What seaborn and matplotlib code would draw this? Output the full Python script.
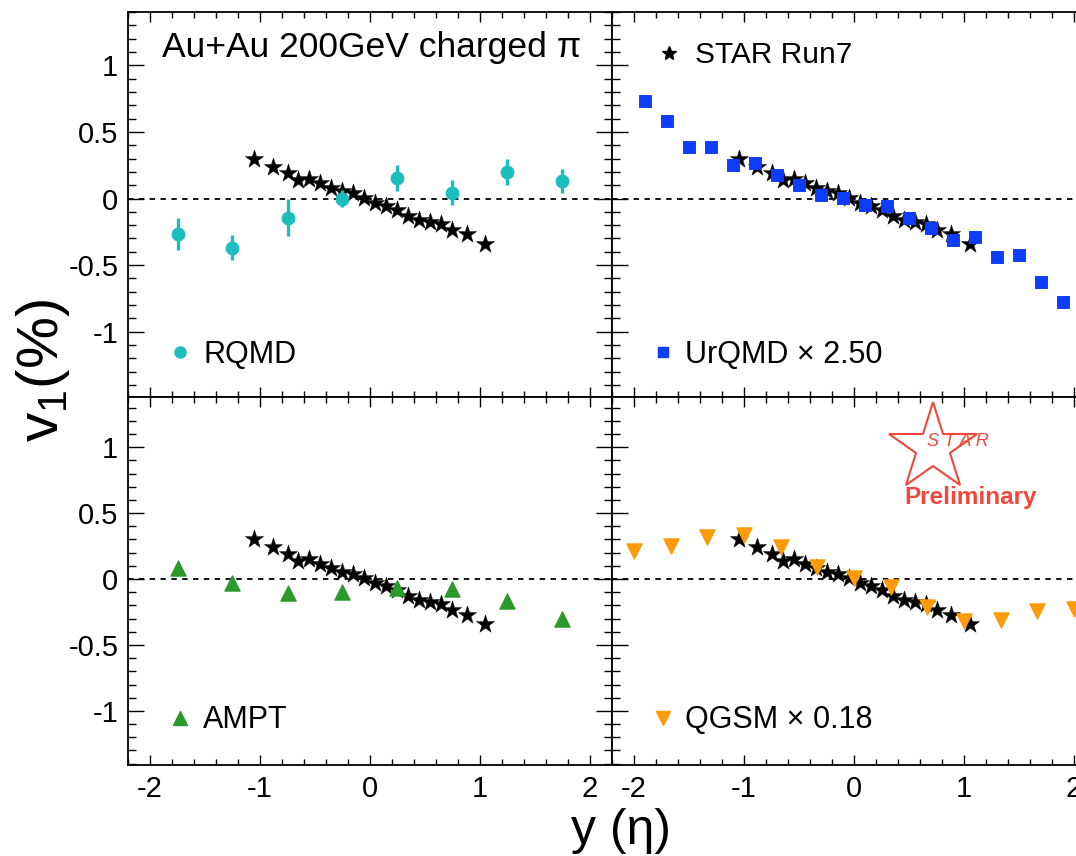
import numpy as np
import pandas as pd
import matplotlib
matplotlib.use("Agg")
import matplotlib.pyplot as plt
import seaborn as sns
from matplotlib.ticker import MultipleLocator, FormatStrFormatter

# ---- data -------------------------------------------------------------
# STAR Run7 measurement (charged pions, Au+Au 200 GeV)
star_y = [-1.05, -0.88, -0.75, -0.65, -0.55, -0.45, -0.35, -0.25, -0.15, -0.05,
          0.05, 0.15, 0.25, 0.35, 0.45, 0.55, 0.65, 0.75, 0.88, 1.05]
star_v1 = [0.30, 0.24, 0.19, 0.14, 0.15, 0.115, 0.08, 0.055, 0.04, 0.005,
           -0.03, -0.055, -0.085, -0.13, -0.16, -0.175, -0.19, -0.235, -0.27, -0.34]

# RQMD
rqmd_y = [-1.75, -1.25, -0.75, -0.25, 0.25, 0.75, 1.25, 1.75]
rqmd_v1 = [-0.27, -0.37, -0.145, 0.0, 0.155, 0.045, 0.20, 0.13]
rqmd_err = [0.12, 0.095, 0.14, 0.065, 0.10, 0.095, 0.10, 0.09]

# UrQMD (raw, drawn scaled)
urqmd_scale = 2.50
urqmd_y = [-1.9, -1.7, -1.5, -1.3, -1.1, -0.9, -0.7, -0.5, -0.3, -0.1,
           0.1, 0.3, 0.5, 0.7, 0.9, 1.1, 1.3, 1.5, 1.7, 1.9]
urqmd_v1 = [0.292, 0.232, 0.156, 0.156, 0.100, 0.108, 0.070, 0.040, 0.012, 0.002,
            -0.020, -0.024, -0.058, -0.090, -0.124, -0.116, -0.176, -0.170, -0.252, -0.312]

# AMPT
ampt_y = [-1.75, -1.25, -0.75, -0.25, 0.25, 0.75, 1.25, 1.75]
ampt_v1 = [0.085, -0.03, -0.105, -0.095, -0.065, -0.075, -0.165, -0.30]

# QGSM (raw, drawn scaled)
qgsm_scale = 0.18
qgsm_y = [-2.0, -1.667, -1.333, -1.0, -0.667, -0.333, 0.0,
          0.333, 0.667, 1.0, 1.333, 1.667, 2.0]
qgsm_v1 = [1.19, 1.39, 1.76, 1.85, 1.36, 0.52, 0.06,
           -0.35, -1.17, -1.76, -1.73, -1.34, -1.28]

xticks = [-2, -1, 0, 1, 2]
yticks = [-1, -0.5, 0, 0.5, 1]

# ---- style ------------------------------------------------------------
sns.set_theme(style="ticks")
plt.rcParams["font.family"] = ["Liberation Sans", "DejaVu Sans"]
plt.rcParams["mathtext.default"] = "regular"
plt.rcParams["axes.unicode_minus"] = False
for key in ("text.color", "axes.labelcolor", "xtick.color", "ytick.color",
            "xtick.labelcolor", "ytick.labelcolor"):
    plt.rcParams[key] = "black"

C_STAR = "black"
C_RQMD = "#1dbdbd"
C_URQMD = "#0d3cfb"
C_AMPT = "#2b9a2b"
C_QGSM = "#ff9a08"
C_LOGO = "#f2473c"

W, H = 1076, 856
fig = plt.figure(figsize=(W / 100, H / 100), dpi=100)
fig.patch.set_facecolor("white")


def frac_box(x0, y0, x1, y1):
    return [x0 / W, 1 - y1 / H, (x1 - x0) / W, (y1 - y0) / H]


ax_tl = fig.add_axes(frac_box(128, 12, 612, 397))
ax_tr = fig.add_axes(frac_box(612, 12, 1096, 397))
ax_bl = fig.add_axes(frac_box(128, 397, 612, 765))
ax_br = fig.add_axes(frac_box(612, 397, 1096, 765))

star_df = pd.DataFrame({"y": star_y, "v1": star_v1})


def style_axes(ax, ylim, xlabels, ylabels):
    ax.set_xlim(-2.2, 2.2)
    ax.set_ylim(*ylim)
    ax.set_facecolor("white")
    for s in ax.spines.values():
        s.set_visible(True)
        s.set_linewidth(1.3)
        s.set_color("black")
    ax.set_xticks(xticks)
    ax.set_yticks(yticks)
    ax.xaxis.set_minor_locator(MultipleLocator(0.2))
    ax.yaxis.set_minor_locator(MultipleLocator(0.1))
    ax.yaxis.set_major_formatter(FormatStrFormatter("%g"))
    ax.xaxis.set_major_formatter(FormatStrFormatter("%g"))
    ax.tick_params(axis="both", which="both", direction="in",
                   top=True, bottom=True, left=True, right=True,
                   color="black", width=1.0)
    ax.tick_params(axis="x", which="major", length=7.5)
    ax.tick_params(axis="x", which="minor", length=4)
    ax.tick_params(axis="y", which="major", length=11.5)
    ax.tick_params(axis="y", which="minor", length=5.5)
    ax.tick_params(axis="both", labelsize=21, pad=7, labelcolor="black")
    ax.tick_params(labelbottom=xlabels, labelleft=ylabels,
                   labeltop=False, labelright=False)
    ax.axhline(0, color="black", lw=1.3, ls=(0, (3, 3)), zorder=1)


def draw_star(ax):
    sns.scatterplot(data=star_df, x="y", y="v1", ax=ax, marker="*", s=190,
                    color=C_STAR, edgecolor=C_STAR, linewidth=0.3,
                    zorder=4, legend=False)


# top-left: RQMD
style_axes(ax_tl, (-1.49, 1.40), False, True)
draw_star(ax_tl)
ax_tl.errorbar(rqmd_y, rqmd_v1, yerr=rqmd_err, fmt="none", ecolor=C_RQMD,
               elinewidth=2.4, capsize=0, zorder=5)
sns.scatterplot(x=rqmd_y, y=rqmd_v1, ax=ax_tl, marker="o", s=85,
                color=C_RQMD, edgecolor=C_RQMD, zorder=5, legend=False)

# top-right: UrQMD
style_axes(ax_tr, (-1.49, 1.40), False, False)
draw_star(ax_tr)
sns.scatterplot(x=urqmd_y, y=np.array(urqmd_v1) * urqmd_scale, ax=ax_tr,
                marker="s", s=70, color=C_URQMD, edgecolor=C_URQMD,
                zorder=5, legend=False, clip_on=False)

# bottom-left: AMPT
style_axes(ax_bl, (-1.41, 1.38), True, True)
sns.scatterplot(x=ampt_y, y=ampt_v1, ax=ax_bl, marker="^", s=120,
                color=C_AMPT, edgecolor=C_AMPT, zorder=5, legend=False)
draw_star(ax_bl)

# bottom-right: QGSM
style_axes(ax_br, (-1.41, 1.38), True, False)
draw_star(ax_br)
sns.scatterplot(x=qgsm_y, y=np.array(qgsm_v1) * qgsm_scale, ax=ax_br,
                marker="v", s=120, color=C_QGSM, edgecolor=C_QGSM,
                zorder=5, legend=False, clip_on=False)

for ax in (ax_tl, ax_tr, ax_bl, ax_br):
    ax.set_xlabel("")
    ax.set_ylabel("")

# ---- annotations ------------------------------------------------------
ax_tl.text(0.070, 0.883, "Au+Au 200GeV charged π", transform=ax_tl.transAxes,
           fontsize=25.5, ha="left", va="baseline")

ax_tr.plot([0.118], [0.894], transform=ax_tr.transAxes, marker="*", ms=10,
           color=C_STAR, ls="none")
ax_tr.text(0.171, 0.8675, "STAR Run7", transform=ax_tr.transAxes,
           fontsize=21.5, ha="left", va="baseline")

ax_tl.plot([0.107], [0.117], transform=ax_tl.transAxes, marker="o", ms=8,
           color=C_RQMD, ls="none")
ax_tl.text(0.155, 0.088, "RQMD", transform=ax_tl.transAxes,
           fontsize=22, ha="left", va="baseline")

ax_tr.plot([0.105], [0.117], transform=ax_tr.transAxes, marker="s", ms=7.5,
           color=C_URQMD, ls="none")
ax_tr.text(0.151, 0.088, f"UrQMD × {urqmd_scale:.2f}", transform=ax_tr.transAxes,
           fontsize=22, ha="left", va="baseline")

ax_bl.plot([0.107], [0.128], transform=ax_bl.transAxes, marker="^", ms=10,
           color=C_AMPT, ls="none")
ax_bl.text(0.155, 0.1005, "AMPT", transform=ax_bl.transAxes,
           fontsize=22, ha="left", va="baseline")

ax_br.plot([0.105], [0.128], transform=ax_br.transAxes, marker="v", ms=10,
           color=C_QGSM, ls="none")
ax_br.text(0.151, 0.1005, f"QGSM × {qgsm_scale:.2f}", transform=ax_br.transAxes,
           fontsize=22, ha="left", va="baseline")

# STAR preliminary logo
ax_br.plot([0.663], [0.862], transform=ax_br.transAxes, marker="*", ms=66,
           mfc="none", mec=C_LOGO, mew=1.5, ls="none", zorder=6)
ax_br.text(0.715, 0.880, "S T A R", transform=ax_br.transAxes, fontsize=13,
           style="italic", color=C_LOGO, ha="center", va="center", zorder=7)
ax_br.text(0.740, 0.728, "Preliminary", transform=ax_br.transAxes, fontsize=17.5,
           fontweight="bold", color=C_LOGO, ha="center", va="center", zorder=7)

# axis titles
fig.text(43 / W, 1 - 370 / H, "v$_1$(%)", rotation=90, fontsize=42,
         ha="center", va="center")
fig.text(621 / W, 1 - 831 / H, "y (η)", fontsize=36, ha="center", va="center")

fig.savefig("out.png", dpi=100, facecolor="white")
